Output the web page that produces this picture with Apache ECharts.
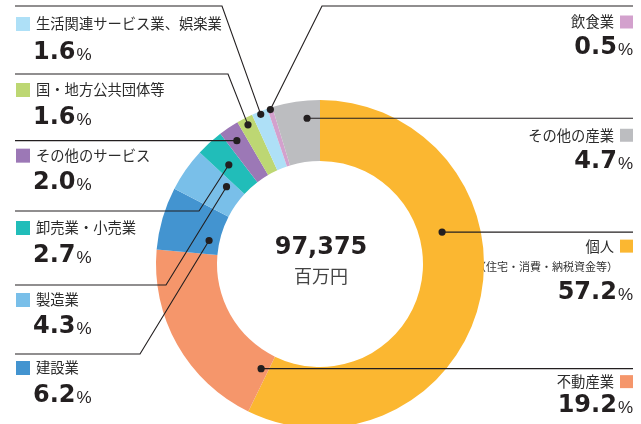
<!DOCTYPE html>
<html>
<head>
<meta charset="utf-8">
<script src="https://cdn.jsdelivr.net/npm/echarts@6/dist/echarts.min.js"></script>
<style>
  html, body { margin: 0; padding: 0; background: #fff; }
  #chart { width: 641px; height: 424px; }
</style>
</head>
<body>
<div id="chart"></div>
<script>
// data, clockwise from 12 o'clock
const categories = ['個人', '不動産業', '建設業', '製造業', '卸売業・小売業', 'その他のサービス',
  '国・地方公共団体等', '生活関連サービス業、娯楽業', '飲食業', 'その他の産業'];
const shares = [57.2, 19.2, 6.2, 4.3, 2.7, 2.0, 1.6, 1.6, 0.5, 4.7];
const subNotes = ['（住宅・消費・納税資金等）', '', '', '', '', '', '', '', '', ''];
const totalValue = 97375;
const totalUnit = '百万円';

const colors = ['#fbb731', '#f5966b', '#4394d0', '#79bfe9', '#21bdb9', '#9c78b6',
  '#bdd773', '#aee0f7', '#d3a1cd', '#bcbdc0'];

// where the leader dot sits inside each slice: [fraction of angle, fraction of ring width]
const anchorAt = [[0.366, 0.38], [0.05, 0.28], [0.31, 0.17], [0.79, 0.3], [0.47, 0.52],
  [0.48, 0.75], [0.5, 0.88], [0.5, 0.95], [0.5, 0.97], [0.7, 0.71]];

// label blocks: side, y of the rule (null = level with dot), elbow x, label / note / pct offsets
const blocks = [
  { side: 'right', lineY: null, elbowX: null, labelDy: 14, noteDy: 35, pctDy: 60 },
  { side: 'right', lineY: null, elbowX: null, labelDy: 13, pctDy: 36 },
  { side: 'left', lineY: 354, elbowX: 140, labelDy: 14, pctDy: 41 },
  { side: 'left', lineY: 285, elbowX: 166, labelDy: 15, pctDy: 41 },
  { side: 'left', lineY: 211, elbowX: 199, labelDy: 17, pctDy: 44 },
  { side: 'left', lineY: null, elbowX: null, labelDy: 15, pctDy: 41 },
  { side: 'left', lineY: 74, elbowX: 228, labelDy: 16, pctDy: 43 },
  { side: 'left', lineY: 6, elbowX: 222, labelDy: 18, pctDy: 46 },
  { side: 'right', lineY: 6, elbowX: 322, labelDy: 16, pctDy: 41 },
  { side: 'right', lineY: null, elbowX: null, labelDy: 17, pctDy: 43 }
];

const LEFT_X = 15;
const RIGHT_X = 633;
const JP = '"Noto Sans CJK JP", sans-serif';

const chart = echarts.init(document.getElementById('chart'), null, { renderer: 'canvas' });

chart.setOption({
  animation: false,
  backgroundColor: '#fff',
  series: [{
    type: 'pie',
    center: [320, 264],
    radius: [103, 164],
    startAngle: 90,
    clockwise: true,
    silent: true,
    label: { show: false },
    labelLine: { show: false },
    data: categories.map((name, i) => ({
      name: name,
      value: shares[i],
      itemStyle: { color: colors[i] }
    }))
  }]
});

const pieData = chart.getModel().getSeriesByIndex(0).getData();
const elements = [];
let cx = 320, cy = 264;

categories.forEach((name, i) => {
  const lay = pieData.getItemLayout(i);
  cx = lay.cx; cy = lay.cy;
  const a = lay.startAngle + anchorAt[i][0] * (lay.endAngle - lay.startAngle);
  const r = lay.r0 + anchorAt[i][1] * (lay.r - lay.r0);
  const dot = [lay.cx + r * Math.cos(a), lay.cy + r * Math.sin(a)];
  const b = blocks[i];
  const lineY = b.lineY == null ? dot[1] : b.lineY;
  const endX = b.side === 'left' ? LEFT_X : RIGHT_X;
  const pts = [dot];
  if (b.elbowX != null) pts.push([b.elbowX, lineY]);
  pts.push([endX, lineY]);

  elements.push({
    type: 'polyline', silent: true, z: 10,
    shape: { points: pts },
    style: { stroke: '#231f20', lineWidth: 1.1, fill: null }
  });
  elements.push({
    type: 'circle', silent: true, z: 11,
    shape: { cx: dot[0], cy: dot[1], r: 3.6 },
    style: { fill: '#231f20' }
  });

  const labelY = lineY + b.labelDy;
  const pctY = lineY + b.pctDy;
  const isLeft = b.side === 'left';
  const sq = isLeft ? 14 : 13;
  elements.push({
    type: 'rect', silent: true,
    shape: { x: isLeft ? 16 : RIGHT_X - sq, y: labelY - sq / 2, width: sq, height: sq },
    style: { fill: colors[i] }
  });
  elements.push({
    type: 'text', silent: true,
    style: {
      text: name,
      x: isLeft ? 36 : RIGHT_X - sq - 6,
      y: labelY,
      align: isLeft ? 'left' : 'right', textAlign: isLeft ? 'left' : 'right',
      verticalAlign: 'middle', textVerticalAlign: 'middle',
      fontFamily: JP, fontSize: 14.3, fill: '#2b2b2b'
    }
  });
  if (subNotes[i]) {
    elements.push({
      type: 'text', silent: true,
      style: {
        text: subNotes[i],
        x: RIGHT_X - 15, y: lineY + b.noteDy,
        align: 'right', textAlign: 'right',
        verticalAlign: 'middle', textVerticalAlign: 'middle',
        fontFamily: JP, fontSize: 11, fill: '#333'
      }
    });
  }
  elements.push({
    type: 'text', silent: true,
    style: {
      text: '{n|' + shares[i].toFixed(1) + '}{p|%}',
      x: isLeft ? 33 : RIGHT_X,
      y: pctY,
      align: isLeft ? 'left' : 'right', textAlign: isLeft ? 'left' : 'right',
      verticalAlign: 'middle', textVerticalAlign: 'middle',
      rich: {
        n: { fontFamily: '"DejaVu Sans", sans-serif', fontWeight: 'bold', fontSize: 24,
          fill: '#231f20', verticalAlign: 'bottom', lineHeight: 26 },
        p: { fontFamily: '"Liberation Sans", sans-serif', fontSize: 17,
          fill: '#231f20', verticalAlign: 'bottom', lineHeight: 26, padding: [0, 0, 1, 1] }
      }
    }
  });
});

// total in the hole
elements.push({
  type: 'text', silent: true,
  style: {
    text: totalValue.toLocaleString('en-US'),
    x: cx + 1, y: cy - 16,
    align: 'center', textAlign: 'center',
    verticalAlign: 'middle', textVerticalAlign: 'middle',
    fontFamily: '"DejaVu Sans", sans-serif', fontWeight: 'bold', fontSize: 24, fill: '#231f20'
  }
});
elements.push({
  type: 'text', silent: true,
  style: {
    text: totalUnit,
    x: cx + 1, y: cy + 12,
    align: 'center', textAlign: 'center',
    verticalAlign: 'middle', textVerticalAlign: 'middle',
    fontFamily: JP, fontSize: 18, fill: '#444'
  }
});

chart.setOption({ graphic: { elements: elements } });
</script>
</body>
</html>
